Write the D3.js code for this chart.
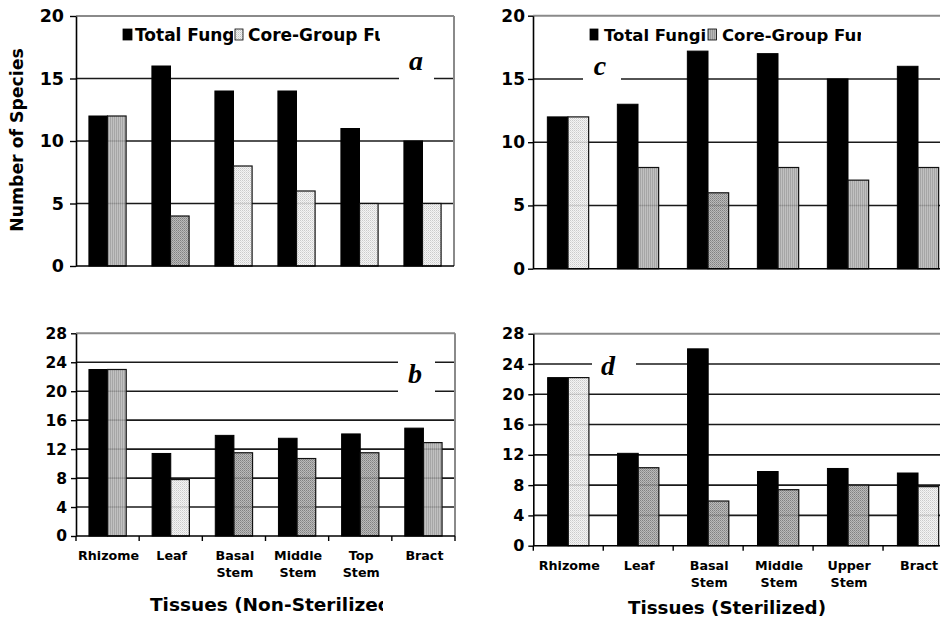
<!DOCTYPE html>
<html>
<head>
<meta charset="utf-8">
<script src="https://cdn.jsdelivr.net/npm/d3@7"></script>
<style>
  html, body { margin: 0; padding: 0; background: #fff; }
  svg { display: block; }
  text { font-family: "DejaVu Sans", Verdana, sans-serif; font-weight: bold; fill: #000; }
</style>
</head>
<body>
<svg id="chart" width="940" height="619"></svg>
<script>
// ---------------- DATA ----------------
const seriesNames = ["Total Fungi", "Core-Group Fungi"];
const tissuesNonSterilized = ["Rhizome", "Leaf", "Basal Stem", "Middle Stem", "Top Stem", "Bract"];
const tissuesSterilized = ["Rhizome", "Leaf", "Basal Stem", "Middle Stem", "Upper Stem", "Bract"];

// panel a (non-sterilized, upper)
const totalA = [12, 16, 14, 14, 11, 10];
const coreA  = [12, 4, 8, 6, 5, 5];
// panel b (non-sterilized, lower)
const totalB = [23, 11.4, 13.9, 13.5, 14.1, 14.9];
const coreB  = [23, 7.8, 11.5, 10.7, 11.5, 12.9];
// panel c (sterilized, upper)
const totalC = [12, 13, 17.2, 17, 15, 16];
const coreC  = [12, 8, 6, 8, 7, 8];
// panel d (sterilized, lower)
const totalD = [22.2, 12.2, 26, 9.8, 10.2, 9.6];
const coreD  = [22.2, 10.3, 5.9, 7.4, 8.0, 7.8];

// hatch kind of each core-group bar, as printed
const hatchA = ["mid", "dark", "light", "light", "light", "light"];
const hatchB = ["mid", "light", "dark", "dark", "dark", "mid"];
const hatchC = ["light", "mid", "dark", "mid", "mid", "mid"];
const hatchD = ["light", "dark", "dark", "dark", "dark", "light"];

const ticksUpper = [0, 5, 10, 15, 20];
const ticksLower = [0, 4, 8, 12, 16, 20, 24, 28];

const yTitle = "Number of Species";
const xTitleNS = "Tissues (Non-Sterilized)";
const xTitleS = "Tissues (Sterilized)";

// ---------------- DRAWING ----------------
const svg = d3.select("#chart");
const defs = svg.append("defs");

// patterns
(function () {
  const p1 = defs.append("pattern").attr("id", "hatch-light").attr("patternUnits", "userSpaceOnUse")
    .attr("width", 2).attr("height", 2);
  p1.append("rect").attr("width", 2).attr("height", 2).attr("fill", "#f2f2f2");
  p1.append("rect").attr("width", 1).attr("height", 1).attr("fill", "#c4c4c4");
  p1.append("rect").attr("x", 1).attr("y", 1).attr("width", 1).attr("height", 1).attr("fill", "#dadada");

  const p2 = defs.append("pattern").attr("id", "hatch-mid").attr("patternUnits", "userSpaceOnUse")
    .attr("width", 2).attr("height", 2);
  p2.append("rect").attr("width", 2).attr("height", 2).attr("fill", "#b8b8b8");
  p2.append("rect").attr("width", 1).attr("height", 2).attr("fill", "#9a9a9a");

  const p3 = defs.append("pattern").attr("id", "hatch-dark").attr("patternUnits", "userSpaceOnUse")
    .attr("width", 2).attr("height", 2);
  p3.append("rect").attr("width", 2).attr("height", 2).attr("fill", "#b0b0b0");
  p3.append("rect").attr("width", 1).attr("height", 1).attr("fill", "#707070");
  p3.append("rect").attr("x", 1).attr("y", 1).attr("width", 1).attr("height", 1).attr("fill", "#888");
})();

const panels = [
  { id: "a", cats: tissuesNonSterilized, total: totalA, core: coreA, hatch: hatchA, ticks: ticksUpper,
    left: 76, right: 454, top: 16, bottom: 266, showX: false, tickSize: 6, tickPad: 6, tickFont: 17.5,
    letterBox: [399, 42, 35, 42], letterPos: [416, 70] },
  { id: "b", cats: tissuesNonSterilized, total: totalB, core: coreB, hatch: hatchB, ticks: ticksLower,
    left: 76, right: 455, top: 333.3, bottom: 536, showX: true, tickSize: 5, tickPad: 4, tickFont: 15.5,
    letterBox: [398, 352, 37, 44], letterPos: [415, 383], labelY: 560 },
  { id: "c", cats: tissuesSterilized, total: totalC, core: coreC, hatch: hatchC, ticks: ticksUpper,
    left: 533, right: 953, top: 15.7, bottom: 268.7, showX: false, tickSize: 5, tickPad: 3, tickFont: 17,
    letterBox: [583, 50, 38, 36], letterPos: [600, 75] },
  { id: "d", cats: tissuesSterilized, total: totalD, core: coreD, hatch: hatchD, ticks: ticksLower,
    left: 533.3, right: 953, top: 333.7, bottom: 545.7, showX: true, tickSize: 5, tickPad: 4, tickFont: 16,
    letterBox: [592, 345, 44, 28], letterPos: [608, 375], labelY: 570 }
];

panels.forEach(p => {
  const g = svg.append("g").attr("class", "panel-" + p.id);
  const maxV = d3.max(p.ticks);
  const y = d3.scaleLinear().domain([0, maxV]).range([p.bottom, p.top]);
  const x = d3.scaleBand().domain(p.cats).range([p.left, p.right]).padding(0);
  const bw = x.bandwidth();
  const xs = d3.scaleBand().domain([0, 1]).range([bw * 0.205, bw * 0.795]).padding(0);

  // gridlines
  g.selectAll("line.grid").data(p.ticks.filter(t => t > 0)).join("line")
    .attr("class", "grid")
    .attr("x1", p.left).attr("x2", p.right)
    .attr("y1", d => y(d)).attr("y2", d => y(d))
    .attr("stroke", d => d === maxV ? "#8a8a8a" : "#1a1a1a")
    .attr("stroke-width", d => d === maxV ? 2 : 1.6);
  // right frame
  g.append("line").attr("x1", p.right).attr("x2", p.right).attr("y1", y(maxV)).attr("y2", y(0))
    .attr("stroke", "#8a8a8a").attr("stroke-width", 2);

  // panel letter with white box
  g.append("rect").attr("x", p.letterBox[0]).attr("y", p.letterBox[1])
    .attr("width", p.letterBox[2]).attr("height", p.letterBox[3]).attr("fill", "#fff");
  g.append("text").attr("x", p.letterPos[0]).attr("y", p.letterPos[1])
    .attr("text-anchor", "middle")
    .style("font-family", "'Liberation Serif', 'Times New Roman', serif")
    .style("font-style", "italic").style("font-weight", "bold").style("font-size", "28px")
    .text(p.id);

  // bars: total fungi
  g.selectAll("rect.total").data(p.cats).join("rect")
    .attr("class", "total")
    .attr("x", (c) => x(c) + xs(0))
    .attr("width", xs.bandwidth())
    .attr("y", (c, i) => y(p.total[i]))
    .attr("height", (c, i) => y(0) - y(p.total[i]))
    .attr("fill", "#000").attr("stroke", "#000").attr("stroke-width", 1);

  // bars: core group
  g.selectAll("rect.core").data(p.cats).join("rect")
    .attr("class", "core")
    .attr("x", (c) => x(c) + xs(1))
    .attr("width", xs.bandwidth())
    .attr("y", (c, i) => y(p.core[i]))
    .attr("height", (c, i) => y(0) - y(p.core[i]))
    .attr("fill", (c, i) => "url(#hatch-" + p.hatch[i] + ")")
    .attr("fill-opacity", 0.88)
    .attr("stroke", "#111").attr("stroke-width", 1.2);

  // y axis
  const ax = g.append("g").attr("transform", `translate(${p.left},0)`)
    .call(d3.axisLeft(y).tickValues(p.ticks).tickSize(p.tickSize).tickSizeOuter(0).tickPadding(p.tickPad));
  ax.select(".domain").attr("stroke", "#000").attr("stroke-width", 1.6);
  ax.selectAll(".tick line").attr("stroke", "#000").attr("stroke-width", 1.4);
  ax.selectAll(".tick text")
    .style("font-family", "'DejaVu Sans', Verdana, sans-serif")
    .style("font-weight", "bold").style("font-size", p.tickFont + "px").attr("fill", "#000");

  // x axis line
  g.append("line").attr("x1", p.left).attr("x2", p.right).attr("y1", y(0)).attr("y2", y(0))
    .attr("stroke", "#000").attr("stroke-width", 1.6);

  if (p.showX) {
    const bounds = p.cats.map(c => x(c)).concat([x(p.cats[p.cats.length - 1]) + bw]);
    g.selectAll("line.xtick").data(bounds).join("line")
      .attr("class", "xtick")
      .attr("x1", d => d).attr("x2", d => d)
      .attr("y1", y(0)).attr("y2", y(0) + 5)
      .attr("stroke", "#000").attr("stroke-width", 1.4);
    const lbl = g.selectAll("text.xlab").data(p.cats).join("text")
      .attr("class", "xlab")
      .attr("text-anchor", "middle")
      .style("font-size", "12.7px");
    lbl.each(function (c) {
      const words = c.split(" ");
      const t = d3.select(this);
      words.forEach((w, k) => {
        t.append("tspan").attr("x", x(c) + bw / 2 + 1).attr("y", p.labelY + k * 17).text(w);
      });
    });
  }
});

// legends
function legend(items, size) {
  const lg = svg.append("g");
  items.forEach((it, k) => {
    lg.append("rect").attr("x", it.sx).attr("y", 29).attr("width", it.sw).attr("height", 11)
      .attr("fill", it.fill).attr("stroke", "#000").attr("stroke-width", 0.8);
    const cid = "clip-leg-" + it.key;
    defs.append("clipPath").attr("id", cid).append("rect")
      .attr("x", it.tx - 2).attr("y", 20).attr("width", it.clipW).attr("height", 30);
    lg.append("text").attr("x", it.tx).attr("y", 40.5)
      .attr("clip-path", `url(#${cid})`)
      .style("font-size", size + "px").text(it.label);
  });
}
legend([
  { key: "a1", sx: 123, sw: 9, fill: "#000", tx: 135, clipW: 100, label: seriesNames[0] },
  { key: "a2", sx: 235, sw: 8, fill: "url(#hatch-light)", tx: 248, clipW: 134, label: seriesNames[1] }
], 17);
legend([
  { key: "c1", sx: 590, sw: 8, fill: "#000", tx: 604, clipW: 104, label: seriesNames[0] },
  { key: "c2", sx: 708, sw: 8.5, fill: "url(#hatch-mid)", tx: 722, clipW: 141, label: seriesNames[1] }
], 16.5);

// y title
svg.append("text")
  .attr("transform", "translate(23,140) rotate(-90)")
  .attr("text-anchor", "middle")
  .style("font-size", "17.3px")
  .text(yTitle);

// x titles
defs.append("clipPath").attr("id", "clip-xt-ns").append("rect")
  .attr("x", 140).attr("y", 585).attr("width", 243).attr("height", 34);
svg.append("text").attr("x", 150).attr("y", 611)
  .attr("clip-path", "url(#clip-xt-ns)")
  .style("font-size", "18.5px").text(xTitleNS);
svg.append("text").attr("x", 727).attr("y", 614)
  .attr("text-anchor", "middle")
  .style("font-size", "18.3px").text(xTitleS);
</script>
</body>
</html>
